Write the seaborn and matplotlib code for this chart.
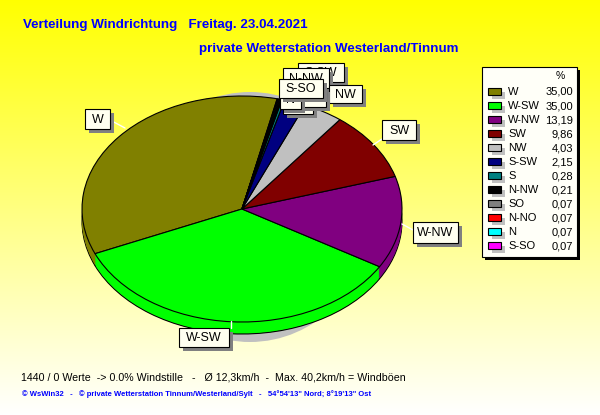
import numpy as np
import matplotlib
matplotlib.use("Agg")
import matplotlib.pyplot as plt
from matplotlib.patches import Rectangle, Ellipse
import seaborn as sns

categories = ["W", "W-SW", "W-NW", "SW", "NW", "S-SW", "S", "N-NW", "SO", "N-NO", "N", "S-SO"]
shares = [35.00, 35.00, 13.19, 9.86, 4.03, 2.15, 0.28, 0.21, 0.07, 0.07, 0.07, 0.07]
share_labels = ["35,00", "35,00", "13,19", "9,86", "4,03", "2,15", "0,28", "0,21", "0,07", "0,07", "0,07", "0,07"]
colors = ["#808000", "#00FF00", "#800080", "#800000", "#C0C0C0", "#000080",
          "#008080", "#000000", "#808080", "#FF0000", "#00FFFF", "#FF00FF"]
title_left = "Verteilung Windrichtung   Freitag. 23.04.2021"
title_right = "private Wetterstation Westerland/Tinnum"
stats_line = "1440 / 0 Werte  -> 0.0% Windstille   -   Ø 12,3km/h  -  Max. 40,2km/h = Windböen"
credit_line = "© WsWin32   -   © private Wetterstation Tinnum/Westerland/Sylt   -   54°54'13\" Nord; 8°19'13\" Ost"

# label boxes, back to front: text, left, right, top, bottom (pixels)
label_boxes = [
    ("W", 85, 110, 109, 129), ("SW", 382, 416, 120, 140), ("W-NW", 413, 458, 222, 243),
    ("W-SW", 179, 229, 328, 347),
    ("S-SW", 298, 344, 63, 82), ("N-NW", 283, 329, 68, 88), ("NW", 329, 362, 85, 103),
    ("S", 285, 305, 92, 110), ("SO", 283, 313, 95, 114), ("N-NO", 283, 326, 88, 107),
    ("N", 280, 301, 90, 109), ("S-SO", 279, 323, 79, 98),
]
leaders = [((110, 120), (125, 128)), ((382, 139), (373, 145)), ((413, 230), (402, 224)), ((231, 328), (231, 321))]

sns.set_theme(style="white")
plt.rcParams["font.family"] = ["Liberation Sans", "DejaVu Sans"]

W, H = 600, 415
CX, CY, RX, RY, DEPTH = 242, 209, 160, 113, 12
fig = plt.figure(figsize=(6, 4.15), dpi=100)


def pixel_axes(z):
    a = fig.add_axes([0, 0, 1, 1], zorder=z)
    a.set_xlim(0, W)
    a.set_ylim(H, 0)
    a.axis("off")
    return a


base = pixel_axes(0)
grad = np.ones((256, 1, 3))
grad[:, 0, 2] = np.linspace(0, 1, 256)
base.imshow(grad, extent=(0, W, H, 0), aspect="auto", interpolation="bilinear")
base.set_xlim(0, W)
base.set_ylim(H, 0)
base.add_patch(Ellipse((250, 217), 240, 250, fc="#C0C0C0", ec="none"))

pie_ax = fig.add_axes([0, 0, 1, 1], zorder=1)
start = 77.3
for d in range(DEPTH, 0, -1):
    lw = 0.8 if d == DEPTH else 0
    pie_ax.pie(shares, colors=colors, startangle=start, center=(0, -d / RY), radius=1,
               wedgeprops=dict(edgecolor="black", linewidth=lw), frame=False)
pie_ax.pie(shares, colors=colors, startangle=start, center=(0, 0), radius=1,
           wedgeprops=dict(edgecolor="black", linewidth=0.8))
pie_ax.set_aspect("auto")
pie_ax.set_xlim(-CX / RX, (W - CX) / RX)
pie_ax.set_ylim((CY - H) / RY, CY / RY)
pie_ax.axis("off")

top = pixel_axes(2)
for (x0, y0), (x1, y1) in leaders:
    top.plot([x0, x1], [y0, y1], color="white", lw=1, zorder=1)
for i, (txt, l, r, t, b) in enumerate(label_boxes):
    z = 2 + i
    top.add_patch(Rectangle((l + 4, t + 4), r - l, b - t, fc="#808080", ec="none", zorder=z))
    top.add_patch(Rectangle((l, t), r - l, b - t, fc="#FFFFF0", ec="black", lw=0.8, zorder=z))
    top.text((l + r) / 2, (t + b) / 2 + 0.5, txt, ha="center", va="center", fontsize=9, color="black", zorder=z)

# legend
top.add_patch(Rectangle((485, 70), 95, 190, fc="black", ec="none", zorder=30))
top.add_patch(Rectangle((482, 67), 95, 190, fc="#FFFFF8", ec="black", lw=0.8, zorder=30))
top.text(560, 76, "%", ha="center", va="center", fontsize=7.5, color="black", zorder=31)
for i, (name, lab, col) in enumerate(zip(categories, share_labels, colors)):
    y = 92 + 14 * i
    top.add_patch(Rectangle((492, y), 13, 7, fc="#C0C0C0", ec="none", zorder=31))
    top.add_patch(Rectangle((488, y - 4), 13, 7, fc=col, ec="black", lw=0.8, zorder=31))
    top.text(508, y, name, ha="left", va="center", fontsize=8, color="black", zorder=31)
    top.text(573, y, lab, ha="right", va="center", fontsize=8, color="black", zorder=31)

top.text(23, 25, title_left, ha="left", va="center", fontsize=9.6, fontweight="bold", color="#0000FF")
top.text(199, 49, title_right, ha="left", va="center", fontsize=9.65, fontweight="bold", color="#0000FF")
top.text(21, 377, stats_line, ha="left", va="center", fontsize=7.66, color="black")
top.text(22, 394, credit_line, ha="left", va="center", fontsize=5.5, fontweight="bold", color="#0000FF")

fig.savefig("out.png", dpi=100)
